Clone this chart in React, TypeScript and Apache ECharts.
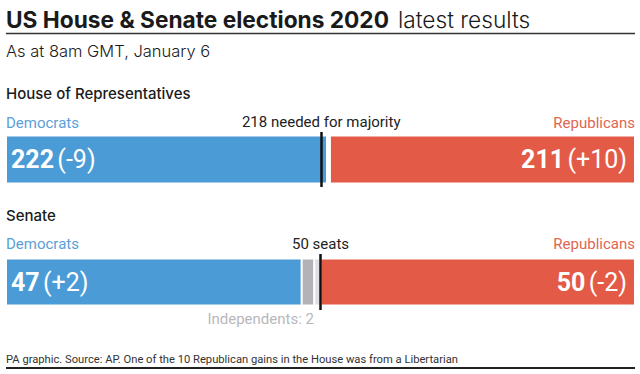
import React, { useEffect, useRef } from "react";
import * as echarts from "echarts";

const partyNames = ["Democrats", "Republicans"];
const houseSeats = [222, 2, 211]; // Democrats, vacant, Republicans
const houseChange = ["-9", "", "+10"];
const houseMajority = 218;
const houseMajorityLabel = "218 needed for majority";
const senateSeats = [47, 2, 1, 50]; // Democrats, Independents, vacant, Republicans
const senateChange = ["+2", "", "", "-2"];
const senateMajority = 50;
const senateMajorityLabel = "50 seats";
const independentsLabel = "Independents: 2";

const BLUE = "#4b9bd7";
const RED = "#e35b47";
const GREY = "#b2b2b7";
const VACANT = "#dfdfe2";
const FONT = "Roboto, 'Noto Sans', sans-serif";
const WIDE = "Inter, Roboto, sans-serif";

function valueLabel(seats: number, change: string, pos: "insideLeft" | "insideRight") {
  return {
    show: true,
    position: pos,
    distance: pos === "insideLeft" ? 5 : 8,
    formatter: `{n|${seats}} {c|(${change})}`,
    rich: {
      n: { fontSize: 25, fontWeight: "bold", color: "#fff", fontFamily: FONT },
      c: { fontSize: 25, fontWeight: "normal", color: "#fff", fontFamily: FONT },
    },
  };
}

function markLine(value: number, text: string) {
  return {
    silent: true,
    symbol: "none",
    lineStyle: { color: "#111", width: 2.5, type: "solid" },
    label: {
      show: true,
      position: "end",
      formatter: text,
      color: "#222",
      fontSize: 15,
      fontFamily: FONT,
      distance: 3,
    },
    data: [{ xAxis: value }],
  };
}

export default function App() {
  const ref = useRef<HTMLDivElement>(null);
  useEffect(() => {
    document.body.style.margin = "0";
    const chart = echarts.init(ref.current!, null, { renderer: "svg" });
    const houseColors = [BLUE, "#ffffff", RED];
    const senateColors = [BLUE, GREY, VACANT, RED];
    const houseSeries = houseSeats.map((v, i) => ({
      type: "bar",
      name: "house" + i,
      stack: "house",
      barWidth: 48,
      xAxisIndex: 0,
      yAxisIndex: 0,
      data: [v],
      itemStyle: { color: houseColors[i], borderColor: "#fff", borderWidth: 1 },
      label:
        i === 0
          ? valueLabel(v, houseChange[i], "insideLeft")
          : i === houseSeats.length - 1
          ? valueLabel(v, houseChange[i], "insideRight")
          : { show: false },
      markLine: i === houseSeats.length - 1 ? markLine(houseMajority, houseMajorityLabel) : undefined,
    }));
    const senateSeries = senateSeats.map((v, i) => ({
      type: "bar",
      name: "senate" + i,
      stack: "senate",
      barWidth: 47,
      xAxisIndex: 1,
      yAxisIndex: 1,
      data: [v],
      itemStyle: { color: senateColors[i], borderColor: "#fff", borderWidth: 1 },
      label:
        i === 0
          ? valueLabel(v, senateChange[i], "insideLeft")
          : i === senateSeats.length - 1
          ? valueLabel(v, senateChange[i], "insideRight")
          : { show: false },
      markLine: i === senateSeats.length - 1 ? markLine(senateMajority, senateMajorityLabel) : undefined,
    }));
    const houseTotal = houseSeats.reduce((a, b) => a + b, 0);
    const senateTotal = senateSeats.reduce((a, b) => a + b, 0);
    const text = (x: number, y: number, t: string, style: any) => ({
      type: "text",
      x,
      y,
      style: { text: t, fontFamily: FONT, verticalAlign: "middle", ...style },
    });
    chart.setOption({
      animation: false,
      grid: [
        { left: 6, right: 5, top: 132, height: 55 },
        { left: 6, right: 5, top: 254, height: 56 },
      ],
      xAxis: [
        { type: "value", gridIndex: 0, min: 0, max: houseTotal, show: false },
        { type: "value", gridIndex: 1, min: 0, max: senateTotal, show: false },
      ],
      yAxis: [
        { type: "category", gridIndex: 0, data: ["House"], show: false },
        { type: "category", gridIndex: 1, data: ["Senate"], show: false },
      ],
      series: [...houseSeries, ...senateSeries],
      graphic: [
        text(6, 19, "US House & Senate elections 2020", {
          fontSize: 22.7,
          fontWeight: "bold",
          fontFamily: WIDE,
          fill: "#1a1a1a",
        }),
        text(398, 19, "latest results", { fontSize: 22.7, fontWeight: 300, fontFamily: WIDE, fill: "#1a1a1a" }),
        { type: "line", shape: { x1: 6, y1: 33.5, x2: 635, y2: 33.5 }, style: { stroke: "#333", lineWidth: 1.5 } },
        text(6, 51, "As at 8am GMT, January 6", { fontSize: 16.5, fill: "#1a1a1a", fontFamily: WIDE, fontWeight: 300 }),
        text(6, 93, "House of Representatives", { fontSize: 15, fontWeight: 500, fill: "#1a1a1a", fontFamily: WIDE }),
        text(6, 123, partyNames[0], { fontSize: 15, fill: "#5aa0d8" }),
        text(635, 123, partyNames[1], { fontSize: 15, fill: "#e06652", align: "right" }),
        text(6, 215, "Senate", { fontSize: 15, fontWeight: 500, fill: "#1a1a1a", fontFamily: WIDE }),
        text(6, 244, partyNames[0], { fontSize: 15, fill: "#5aa0d8" }),
        text(635, 244, partyNames[1], { fontSize: 15, fill: "#e06652", align: "right" }),
        text(314, 319, independentsLabel, { fontSize: 15, fill: "#b8b8bc", align: "right" }),
        text(6, 359, "PA graphic. Source: AP. One of the 10 Republican gains in the House was from a Libertarian", {
          fontSize: 11.2,
          fill: "#333",
        }),
        { type: "line", shape: { x1: 6, y1: 368, x2: 635, y2: 368 }, style: { stroke: "#222", lineWidth: 2 } },
      ],
    });
    return () => chart.dispose();
  }, []);
  return <div ref={ref} style={{ width: 640, height: 374 }} />;
}
